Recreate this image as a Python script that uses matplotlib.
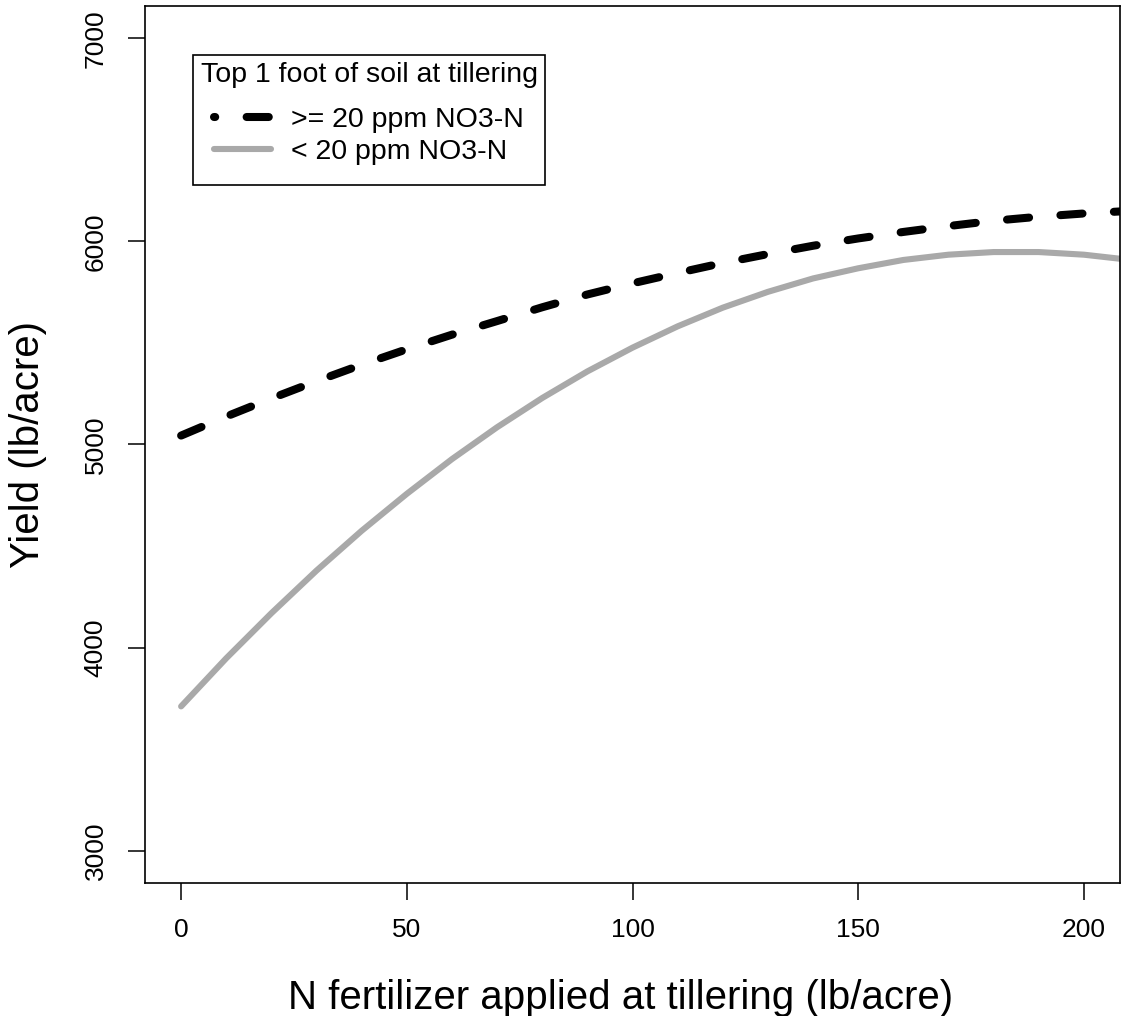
import matplotlib
matplotlib.use("Agg")
import matplotlib.pyplot as plt
from matplotlib.patches import Rectangle

plt.rcParams['font.family'] = ['Liberation Sans', 'DejaVu Sans']

# N rate applied at tillering (lb/acre)
n_rate = [0, 10, 20, 30, 40, 50, 60, 70, 80, 90, 100,
          110, 120, 130, 140, 150, 160, 170, 180, 190, 200, 208]

# predicted yield (lb/acre), soil NO3-N >= 20 ppm
yield_high = [5044, 5138, 5227, 5312, 5393, 5469, 5541, 5608, 5676, 5739, 5794,
              5845, 5894, 5938, 5979, 6015, 6047, 6076, 6102, 6122, 6138, 6148]

# predicted yield (lb/acre), soil NO3-N < 20 ppm
yield_low = [3710, 3947, 4169, 4379, 4575, 4757, 4928, 5085, 5229, 5360, 5477,
             5582, 5674, 5752, 5818, 5868, 5909, 5935, 5948, 5948, 5935, 5915]

legend_title = "Top 1 foot of soil at tillering"
labels = [">= 20 ppm NO3-N", "< 20 ppm NO3-N"]
x_ticks = [0, 50, 100, 150, 200]
y_ticks = [3000, 4000, 5000, 6000, 7000]

W, H = 1124, 1016
fig = plt.figure(figsize=(W / 100, H / 100), dpi=100)
ax = fig.add_axes([145 / W, 1 - 883 / H, (1120 - 145) / W, (883 - 6) / H])

dash = (2.75, 3.9)
ax.plot(n_rate, yield_high, color='black', lw=5.8, dashes=dash,
        dash_capstyle='round', solid_capstyle='round', label=labels[0])
ax.plot(n_rate, yield_low, color='#a9a9a9', lw=4.4,
        solid_capstyle='round', label=labels[1])

ax.set_xlim(-8, 208)
ax.set_ylim(2840, 7160)
ax.set_xticks(x_ticks)
ax.set_yticks(y_ticks)

for sp in ax.spines.values():
    sp.set_linewidth(1.2)
    sp.set_color('black')

ax.tick_params(axis='both', direction='out', length=12, width=1.1,
               labelsize=19)
ax.tick_params(axis='x', pad=13)
ax.tick_params(axis='y', pad=15)
for lab in ax.get_yticklabels():
    lab.set_rotation(90)
    lab.set_va('center')
    lab.set_ha('right')

ax.set_xlabel("N fertilizer applied at tillering (lb/acre)", fontsize=29)
ax.set_ylabel("Yield (lb/acre)", fontsize=29)
ax.xaxis.label.set_va('center')
ax.yaxis.label.set_va('center')
ax.xaxis.set_label_coords(0.488, -(998 - 883) / 877)
ax.yaxis.set_label_coords(-(145 - 28) / 975, 0.5)

# legend without its own frame; the box is drawn separately below
leg = ax.legend(title=legend_title, loc='upper center',
                bbox_to_anchor=(369 / W, 1 - 62 / H),
                bbox_transform=fig.transFigure, borderaxespad=0,
                fontsize=20.5, title_fontsize=20.5, frameon=False,
                handlelength=2.0, handletextpad=0.7, labelspacing=0.235,
                borderpad=0)
leg._legend_box.sep = 13.5
leg.legend_handles[0].set_linestyle((2.6, dash))

fig.add_artist(Rectangle((193 / W, 1 - 185 / H), 352 / W, 130 / H,
                         transform=fig.transFigure, fill=False,
                         edgecolor='black', lw=1.2))

fig.savefig("out.png", dpi=100, facecolor='white')
